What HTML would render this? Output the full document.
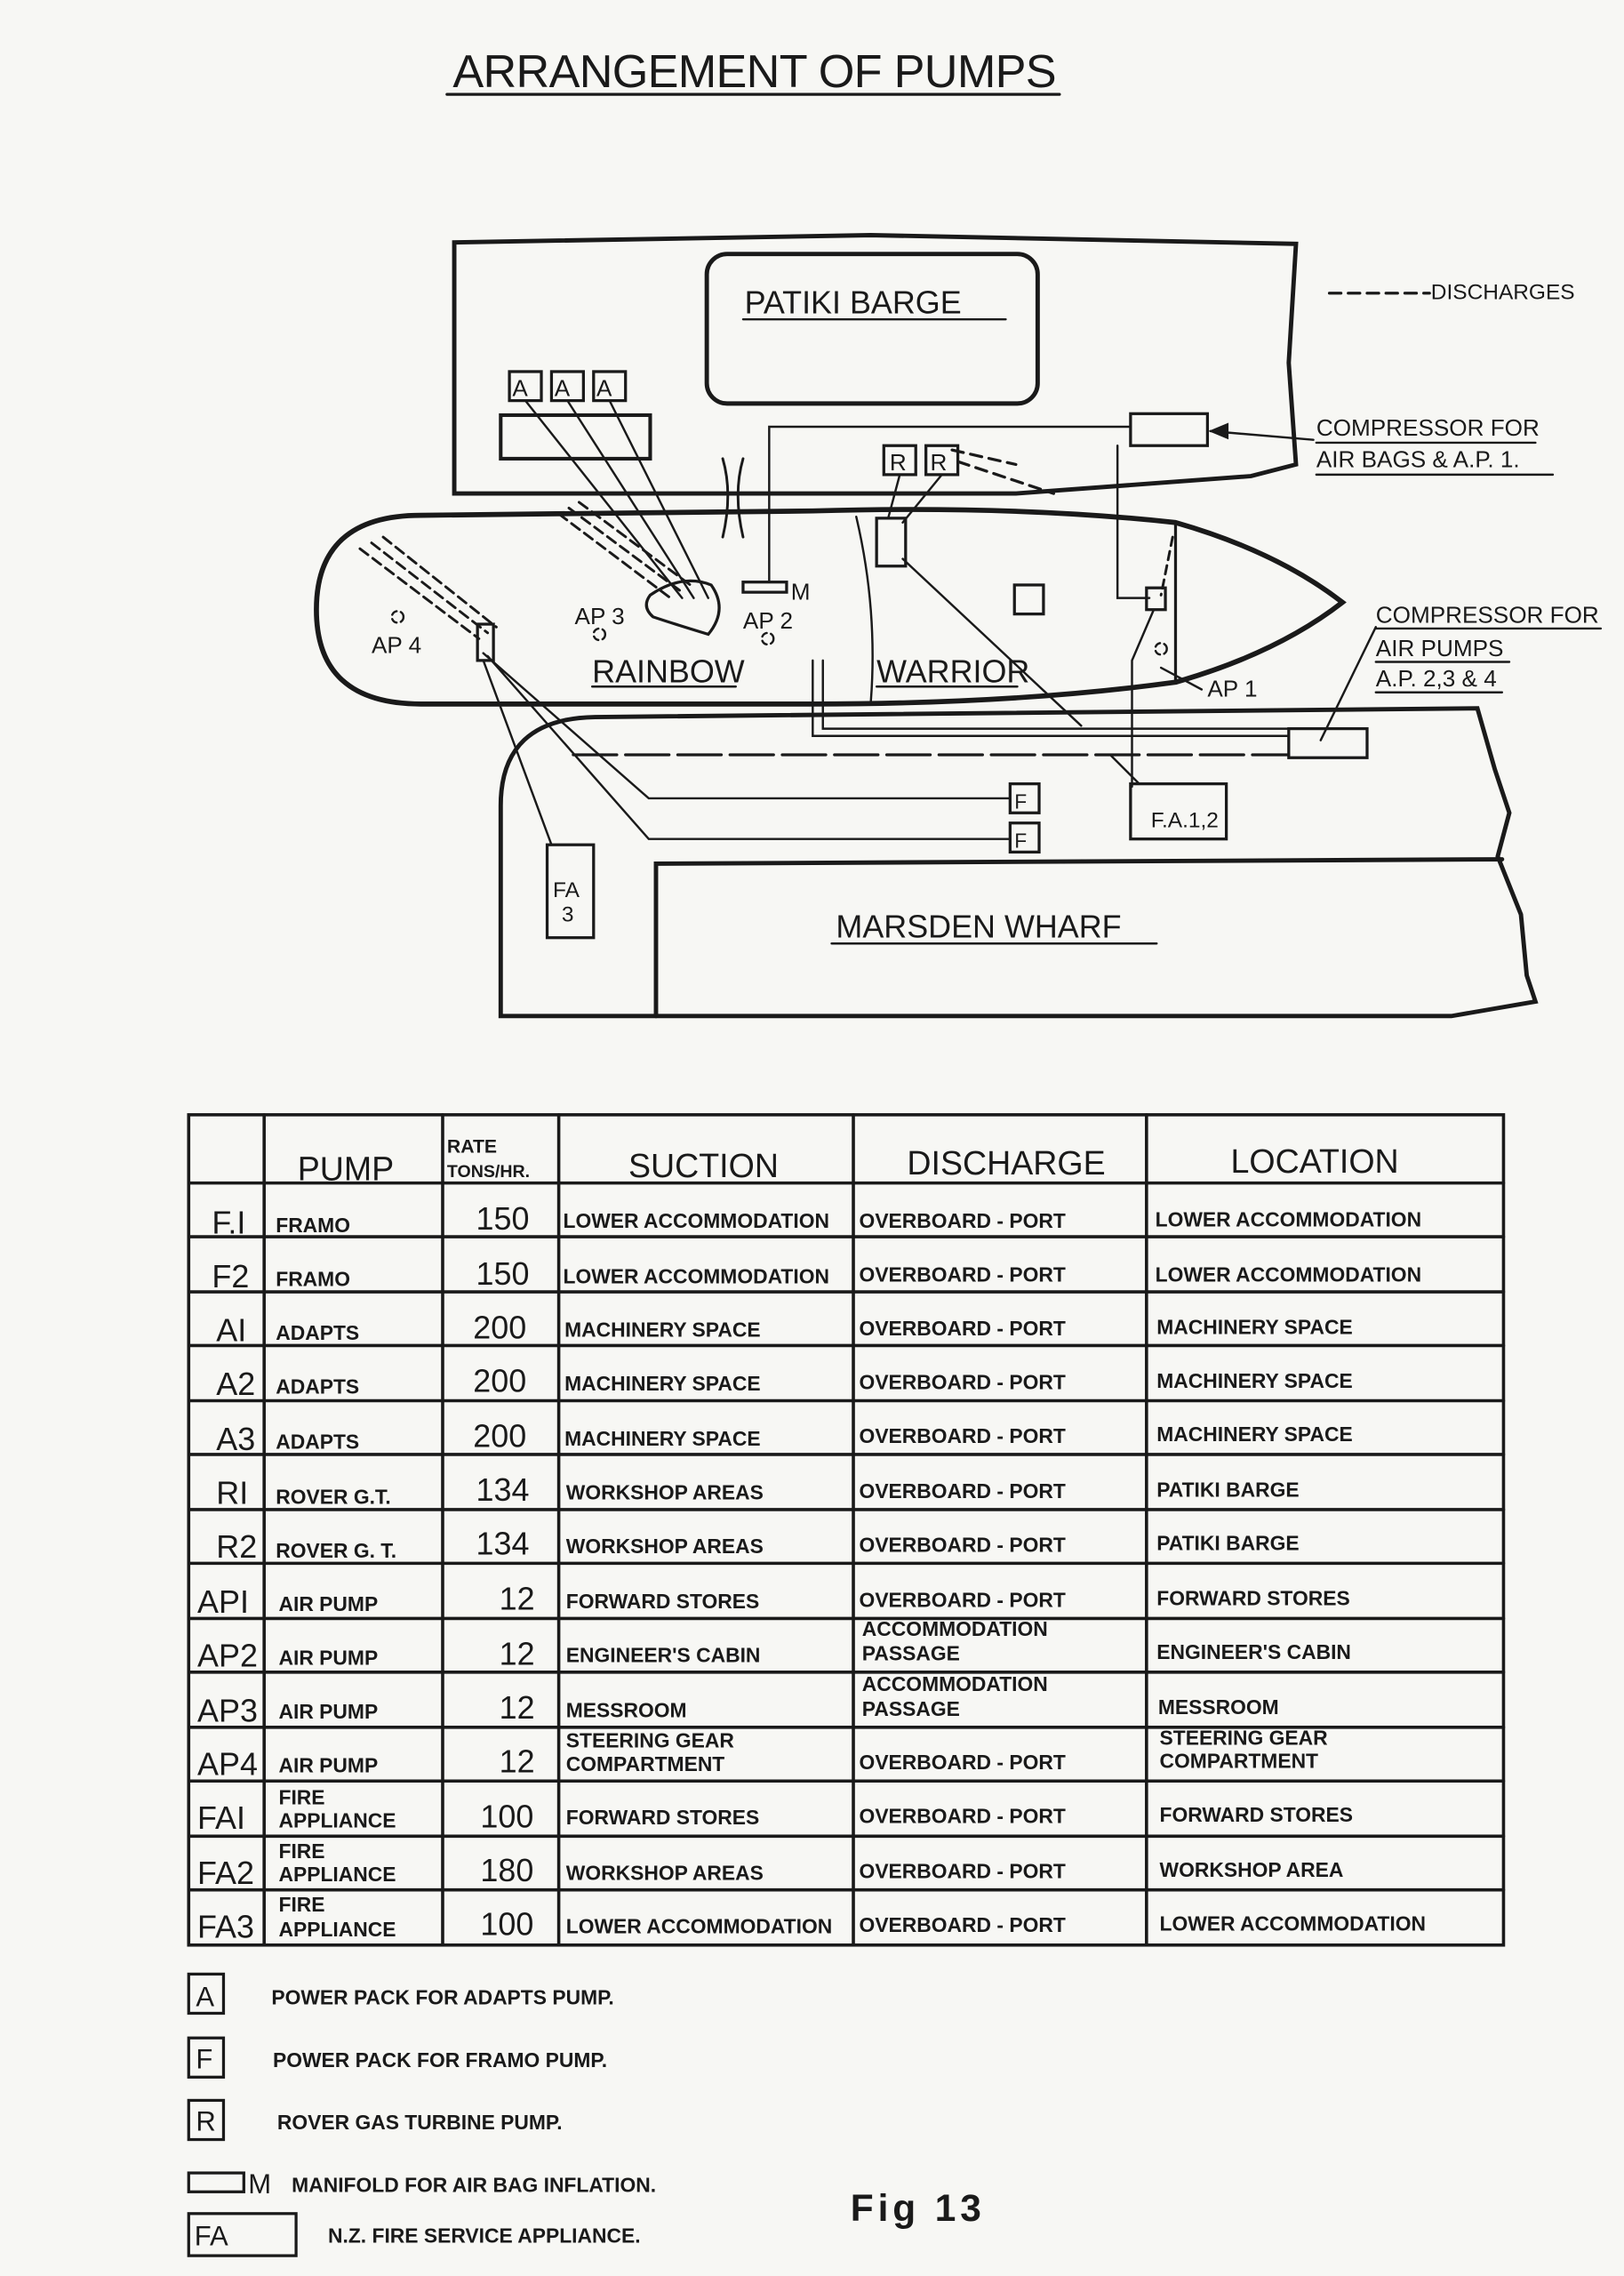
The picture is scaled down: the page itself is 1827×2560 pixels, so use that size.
<!DOCTYPE html>
<html><head><meta charset="utf-8"><style>
html,body{margin:0;padding:0;background:#f7f7f4;}
svg{display:block;}
text{font-family:"Liberation Sans",sans-serif;fill:#1a1a1a;}
.t{font-weight:bold;font-size:14px;}
.h{font-size:23px;}
.n{font-size:22px;}
</style></head><body>
<svg width="1827" height="2560" viewBox="0 0 1119 1568" xmlns="http://www.w3.org/2000/svg">
<rect width="1119" height="1568" fill="#f7f7f4"/>
<g stroke="#1a1a1a" fill="none" stroke-width="2.5" stroke-linecap="round">
<line x1="308" y1="65" x2="730" y2="65" stroke-width="2"/>
<path d="M313,340 L313,167 L600,162 L893,168 L888,250 L893,320 L862,328 L700,340 Z" stroke-width="3"/>
<rect x="487" y="175" width="228" height="103" rx="14" stroke-width="3"/>
<rect x="345" y="286" width="103" height="30"/>
<rect x="351" y="256" width="22" height="20" stroke-width="2"/>
<rect x="380" y="256" width="22" height="20" stroke-width="2"/>
<rect x="409" y="256" width="22" height="20" stroke-width="2"/>
<rect x="609" y="307" width="22" height="20" stroke-width="2"/>
<rect x="638" y="307" width="22" height="20" stroke-width="2"/>
<rect x="779" y="285" width="53" height="22" stroke-width="2"/>
<path d="M779,294 L530,294 L530,400" stroke-width="1.5"/>
<path d="M905,303 L834,297" stroke-width="1.5"/>
<path d="M834,297 L846,292 L846,302 Z" fill="#1a1a1a" stroke-width="1"/>
<path d="M770,307 L770,412 L792,412" stroke-width="1.5"/>
<path d="M498,316 Q505,340 498,370 M512,316 Q505,340 512,370" stroke-width="1.8"/>
<path d="M290,355 L560,352 Q700,348 810,360 Q880,380 925,415 Q880,450 810,470 Q700,485 560,485 L290,485 Q218,485 218,420 Q218,355 290,355 Z" stroke-width="3.5"/>
<line x1="810" y1="362" x2="810" y2="468" stroke-width="2"/>
<path d="M590,356 Q605,420 600,484" stroke-width="1.5"/>
<rect x="699" y="403" width="20" height="20" stroke-width="2"/>
<path d="M448,410 Q470,395 490,403 Q502,420 488,437 Q465,430 450,425 Q442,418 448,410 Z" stroke-width="2"/>
<rect x="512" y="401" width="30" height="7" stroke-width="2"/>
<rect x="604" y="357" width="20" height="33" stroke-width="2"/>
<rect x="790" y="405" width="13" height="15" stroke-width="2"/>
<rect x="329" y="430" width="11" height="25" stroke-width="2"/>
<path d="M362,276 L470,412 M391,276 L478,412 M420,276 L488,412" stroke-width="1.5"/>
<path d="M385,354 L462,412 M392,350 L470,408 M399,346 L477,404" stroke-width="1.8" stroke-dasharray="7,4"/>
<path d="M248,378 L330,440 M256,374 L336,436 M264,370 L342,432" stroke-width="1.8" stroke-dasharray="7,4"/>
<path d="M620,327 L612,357 M649,327 L622,360" stroke-width="1.5"/>
<path d="M660,318 L726,340" stroke-width="2" stroke-dasharray="8,5"/>
<path d="M656,310 L700,320" stroke-width="2" stroke-dasharray="8,5"/>
<path d="M622,385 L745,500" stroke-width="1.5"/>
<path d="M808,370 L800,410" stroke-width="1.8" stroke-dasharray="6,4"/>
<path d="M795,420 L780,455 L780,542 M765,520 L785,540" stroke-width="1.5"/>
<path d="M800,460 L828,475" stroke-width="1.5"/>
<path d="M560,455 L560,507 L888,507 M567,455 L567,502 L888,502" stroke-width="1.5"/>
<path d="M395,520 L888,520" stroke-width="2" stroke-dasharray="30,6"/>
<rect x="888" y="502" width="54" height="20" stroke-width="2"/>
<path d="M910,510 L948,432" stroke-width="1.5"/>
<path d="M345,700 L345,555 Q345,495 410,494 L1018,488 L1030,530 L1040,560 L1032,590 L1048,630 L1052,672 L1058,690 L1000,700 Z" stroke-width="3"/>
<path d="M452,700 L452,595 L1035,592" stroke-width="3"/>
<path d="M333,450 L447,550 L696,550 M336,452 L447,578 L696,578" stroke-width="1.5"/>
<path d="M333,455 L380,582" stroke-width="1.5"/>
<rect x="696" y="540" width="20" height="20" stroke-width="2"/>
<rect x="696" y="567" width="20" height="20" stroke-width="2"/>
<rect x="779" y="540" width="66" height="38" stroke-width="2"/>
<rect x="377" y="582" width="32" height="64" stroke-width="2"/>
<circle cx="274" cy="425" r="4" stroke-width="1.5" stroke-dasharray="4,3"/>
<circle cx="413" cy="437" r="4" stroke-width="1.5" stroke-dasharray="4,3"/>
<circle cx="529" cy="440" r="4" stroke-width="1.5" stroke-dasharray="4,3"/>
<circle cx="800" cy="447" r="4" stroke-width="1.5" stroke-dasharray="4,3"/>
<path d="M512,220 L693,220 M408,473 L507,473 M604,473 L701,473 M573,650 L797,650 M907,305 L1058,305 M907,327 L1070,327 M948,433 L1103,433 M948,456 L1040,456 M948,477 L1035,477" stroke-width="1.5"/>
<path d="M916,202 L985,202" stroke-width="2" stroke-dasharray="8,5"/>
<g stroke-width="2.2">
<rect x="130" y="768" width="906" height="572"/>
<path d="M182,768 L182,1340 M305,768 L305,1340 M385,768 L385,1340 M588,768 L588,1340 M790,768 L790,1340"/>
<path d="M130,815 H1036 M130,852 H1036 M130,890 H1036 M130,927 H1036 M130,965 H1036 M130,1002 H1036 M130,1040 H1036 M130,1077 H1036 M130,1115 H1036 M130,1152 H1036 M130,1190 H1036 M130,1227 H1036 M130,1265 H1036 M130,1302 H1036"/>
</g>
<rect x="130" y="1360" width="24" height="27" stroke-width="2"/>
<rect x="130" y="1404" width="24" height="27" stroke-width="2"/>
<rect x="130" y="1447" width="24" height="27" stroke-width="2"/>
<rect x="130" y="1497" width="38" height="13" stroke-width="2"/>
<rect x="130" y="1525" width="74" height="29" stroke-width="2"/>
</g>
<g>
<text x="312" y="60" font-size="32" textLength="416">ARRANGEMENT  OF  PUMPS</text>
<text x="513" y="216" font-size="22">PATIKI  BARGE</text>
<text x="353" y="273" font-size="16">A</text><text x="382" y="273" font-size="16">A</text><text x="411" y="273" font-size="16">A</text>
<text x="613" y="324" font-size="16">R</text><text x="641" y="324" font-size="16">R</text>
<text x="986" y="206" font-size="15">DISCHARGES</text>
<text x="907" y="300" font-size="16">COMPRESSOR  FOR</text>
<text x="907" y="322" font-size="16">AIR  BAGS  &amp;  A.P. 1.</text>
<text x="948" y="429" font-size="16">COMPRESSOR   FOR</text>
<text x="948" y="452" font-size="16">AIR  PUMPS</text>
<text x="948" y="473" font-size="16">A.P. 2,3 &amp; 4</text>
<text x="256" y="450" font-size="16">AP 4</text>
<text x="396" y="430" font-size="16">AP 3</text>
<text x="512" y="433" font-size="16">AP 2</text>
<text x="545" y="413" font-size="16">M</text>
<text x="832" y="480" font-size="16">AP 1</text>
<text x="408" y="470" font-size="22">RAINBOW</text>
<text x="604" y="470" font-size="22">WARRIOR</text>
<text x="699" y="557" font-size="14">F</text><text x="699" y="584" font-size="14">F</text>
<text x="793" y="570" font-size="15">F.A.1,2</text>
<text x="381" y="618" font-size="15">FA</text><text x="387" y="635" font-size="15">3</text>
<text x="576" y="646" font-size="22">MARSDEN  WHARF</text>
<text x="205" y="813" class="h">PUMP</text>
<text x="308" y="794" font-size="13" font-weight="bold">RATE</text>
<text x="308" y="811" font-size="12" font-weight="bold">TONS/HR.</text>
<text x="433" y="811" class="h">SUCTION</text>
<text x="625" y="809" class="h">DISCHARGE</text>
<text x="848" y="808" class="h">LOCATION</text>
<g transform="translate(0,-5)">
<g class="n">
<text x="146" y="855">F.I</text><text x="146" y="892">F2</text><text x="149" y="929">AI</text><text x="149" y="966">A2</text><text x="149" y="1004">A3</text><text x="149" y="1041">RI</text><text x="149" y="1078">R2</text><text x="136" y="1116">API</text><text x="136" y="1153">AP2</text><text x="136" y="1191">AP3</text><text x="136" y="1228">AP4</text><text x="136" y="1265">FAI</text><text x="136" y="1303">FA2</text><text x="136" y="1340">FA3</text>
<text x="328" y="852">150</text><text x="328" y="890">150</text><text x="326" y="927">200</text><text x="326" y="964">200</text><text x="326" y="1002">200</text><text x="328" y="1039">134</text><text x="328" y="1076">134</text><text x="344" y="1114">12</text><text x="344" y="1152">12</text><text x="344" y="1189">12</text><text x="344" y="1226">12</text><text x="331" y="1264">100</text><text x="331" y="1301">180</text><text x="331" y="1338">100</text>
</g>
<g class="t">
<text x="190" y="854">FRAMO</text><text x="190" y="891">FRAMO</text><text x="190" y="928">ADAPTS</text><text x="190" y="965">ADAPTS</text><text x="190" y="1003">ADAPTS</text><text x="190" y="1041">ROVER G.T.</text><text x="190" y="1078">ROVER G. T.</text><text x="192" y="1115">AIR PUMP</text><text x="192" y="1152">AIR PUMP</text><text x="192" y="1189">AIR PUMP</text><text x="192" y="1226">AIR PUMP</text>
<text x="192" y="1248">FIRE</text><text x="192" y="1264">APPLIANCE</text><text x="192" y="1285">FIRE</text><text x="192" y="1301">APPLIANCE</text><text x="192" y="1322">FIRE</text><text x="192" y="1339">APPLIANCE</text>
<text x="388" y="851">LOWER ACCOMMODATION</text><text x="388" y="889">LOWER ACCOMMODATION</text><text x="389" y="926">MACHINERY SPACE</text><text x="389" y="963">MACHINERY SPACE</text><text x="389" y="1001">MACHINERY SPACE</text><text x="390" y="1038">WORKSHOP AREAS</text><text x="390" y="1075">WORKSHOP AREAS</text><text x="390" y="1113">FORWARD STORES</text><text x="390" y="1150">ENGINEER'S CABIN</text><text x="390" y="1188">MESSROOM</text><text x="390" y="1209">STEERING GEAR</text><text x="390" y="1225">COMPARTMENT</text><text x="390" y="1262">FORWARD STORES</text><text x="390" y="1300">WORKSHOP AREAS</text><text x="390" y="1337">LOWER ACCOMMODATION</text>
<text x="592" y="851">OVERBOARD - PORT</text><text x="592" y="888">OVERBOARD - PORT</text><text x="592" y="925">OVERBOARD - PORT</text><text x="592" y="962">OVERBOARD - PORT</text><text x="592" y="999">OVERBOARD - PORT</text><text x="592" y="1037">OVERBOARD - PORT</text><text x="592" y="1074">OVERBOARD - PORT</text><text x="592" y="1112">OVERBOARD - PORT</text>
<text x="594" y="1132">ACCOMMODATION</text><text x="594" y="1149">PASSAGE</text><text x="594" y="1170">ACCOMMODATION</text><text x="594" y="1187">PASSAGE</text>
<text x="592" y="1224">OVERBOARD - PORT</text><text x="592" y="1261">OVERBOARD - PORT</text><text x="592" y="1299">OVERBOARD - PORT</text><text x="592" y="1336">OVERBOARD - PORT</text>
<text x="796" y="850">LOWER ACCOMMODATION</text><text x="796" y="888">LOWER ACCOMMODATION</text><text x="797" y="924">MACHINERY SPACE</text><text x="797" y="961">MACHINERY SPACE</text><text x="797" y="998">MACHINERY SPACE</text><text x="797" y="1036">PATIKI BARGE</text><text x="797" y="1073">PATIKI BARGE</text><text x="797" y="1111">FORWARD STORES</text><text x="797" y="1148">ENGINEER'S CABIN</text><text x="798" y="1186">MESSROOM</text><text x="799" y="1207">STEERING GEAR</text><text x="799" y="1223">COMPARTMENT</text><text x="799" y="1260">FORWARD STORES</text><text x="799" y="1298">WORKSHOP AREA</text><text x="799" y="1335">LOWER ACCOMMODATION</text>
</g>
</g>
<text x="135" y="1382" font-size="19">A</text>
<text x="135" y="1425" font-size="19">F</text>
<text x="135" y="1468" font-size="19">R</text>
<text x="171" y="1511" font-size="19">M</text>
<text x="134" y="1547" font-size="19">FA</text>
<g class="t">
<text x="187" y="1381">POWER PACK FOR ADAPTS PUMP.</text>
<text x="188" y="1424">POWER PACK FOR FRAMO PUMP.</text>
<text x="191" y="1467">ROVER GAS TURBINE PUMP.</text>
<text x="201" y="1510">MANIFOLD FOR AIR BAG INFLATION.</text>
<text x="226" y="1545">N.Z. FIRE SERVICE APPLIANCE.</text>
</g>
<text x="586" y="1530" font-size="26" font-weight="bold" letter-spacing="3">Fig  13</text>
</g>
</svg>
</body></html>
